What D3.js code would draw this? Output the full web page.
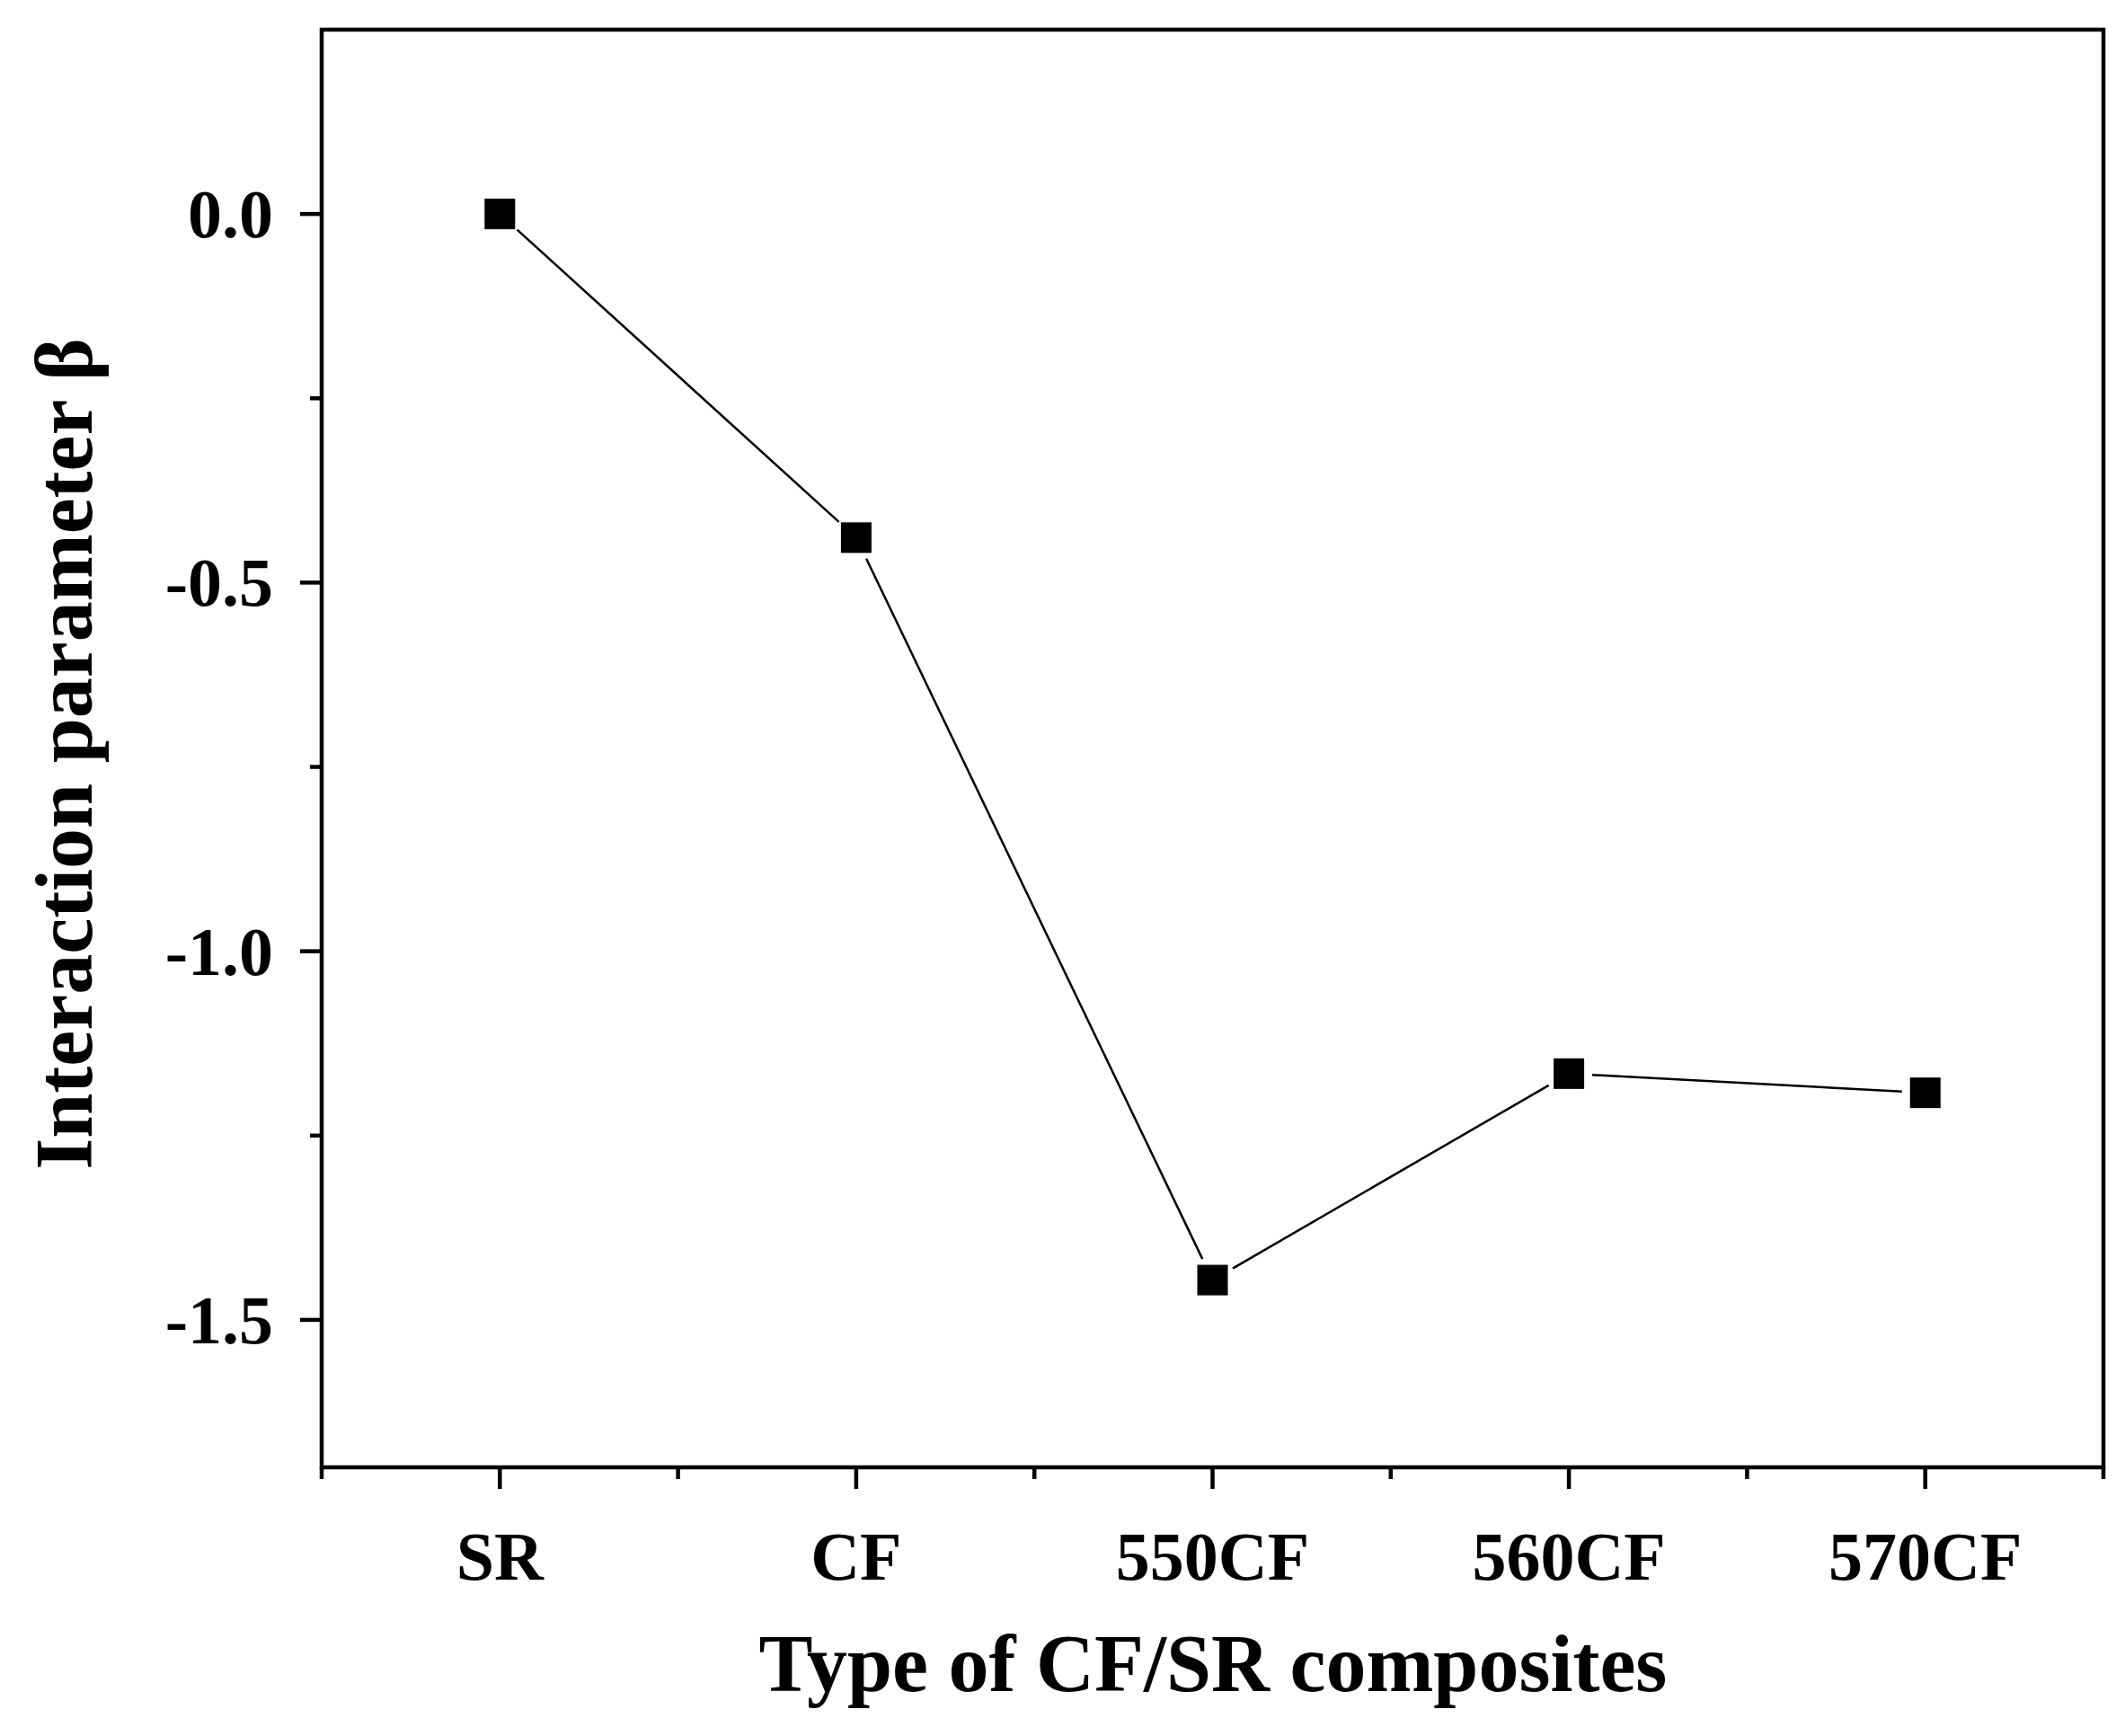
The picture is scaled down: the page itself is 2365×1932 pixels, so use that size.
<!DOCTYPE html><html><head><meta charset="utf-8"><script src="https://cdn.jsdelivr.net/npm/d3@7"></script>
<style>body{margin:0;background:#fff}text{font-family:"Liberation Serif","Times New Roman",serif;font-weight:bold}</style></head><body>
<svg id="c" width="2365" height="1932"></svg>
<script>
const categories=["SR","CF","550CF","560CF","570CF"];
const beta=[0,-0.439,-1.446,-1.166,-1.192];
const yTicks=[0,-0.5,-1,-1.5];
const yMinor=[-0.25,-0.75,-1.25,-1.75];
const svg=d3.select("#c");
const L=358,R=2341,T=33,B=1633;
const x=d3.scaleLinear().domain([-0.5,4.5]).range([L,R]);
const y=d3.scaleLinear().domain([-1.7,0.25]).range([B,T]);
svg.append("rect").attr("x",L).attr("y",T).attr("width",R-L).attr("height",B-T).attr("fill","none").attr("stroke","#000").attr("stroke-width",4.5);
const g=svg.append("g");
categories.forEach((c,i)=>{
 g.append("line").attr("x1",x(i)).attr("x2",x(i)).attr("y1",B).attr("y2",B+24).attr("stroke","#000").attr("stroke-width",4.5);
 g.append("text").attr("x",x(i)).attr("y",1758).attr("text-anchor","middle").attr("font-size",76).text(c);
});
d3.range(-0.5,5,1).forEach(v=>g.append("line").attr("x1",x(v)).attr("x2",x(v)).attr("y1",B).attr("y2",B+13).attr("stroke","#000").attr("stroke-width",4.5));
yTicks.forEach(v=>{
 g.append("line").attr("x1",L).attr("x2",L-24).attr("y1",y(v)).attr("y2",y(v)).attr("stroke","#000").attr("stroke-width",4.5);
 g.append("text").attr("x",304).attr("y",y(v)+26).attr("text-anchor","end").attr("font-size",76).text(d3.format(".1f")(v).replace("−","-"));
});
yMinor.filter(v=>v>=-1.7).forEach(v=>g.append("line").attr("x1",L).attr("x2",L-13).attr("y1",y(v)).attr("y2",y(v)).attr("stroke","#000").attr("stroke-width",4.5));
// line segments with gaps near markers
const gap=26;
for(let i=0;i<beta.length-1;i++){
 const x1=x(i),y1=y(beta[i]),x2=x(i+1),y2=y(beta[i+1]);
 const d=Math.hypot(x2-x1,y2-y1),ux=(x2-x1)/d,uy=(y2-y1)/d;
 svg.append("line").attr("x1",x1+ux*gap).attr("y1",y1+uy*gap).attr("x2",x2-ux*gap).attr("y2",y2-uy*gap).attr("stroke","#000").attr("stroke-width",2.5);
}
const s=34;
svg.selectAll("rect.m").data(beta).enter().append("rect").attr("class","m").attr("x",(d,i)=>x(i)-s/2).attr("y",d=>y(d)-s/2).attr("width",s).attr("height",s).attr("fill","#000");
svg.append("text").attr("x",1350).attr("y",1882).attr("text-anchor","middle").attr("font-size",90).text("Type of CF/SR composites");
svg.append("text").attr("transform","translate(102,839) rotate(-90)").attr("text-anchor","middle").attr("font-size",90).text("Interaction parameter β");
</script></body></html>
